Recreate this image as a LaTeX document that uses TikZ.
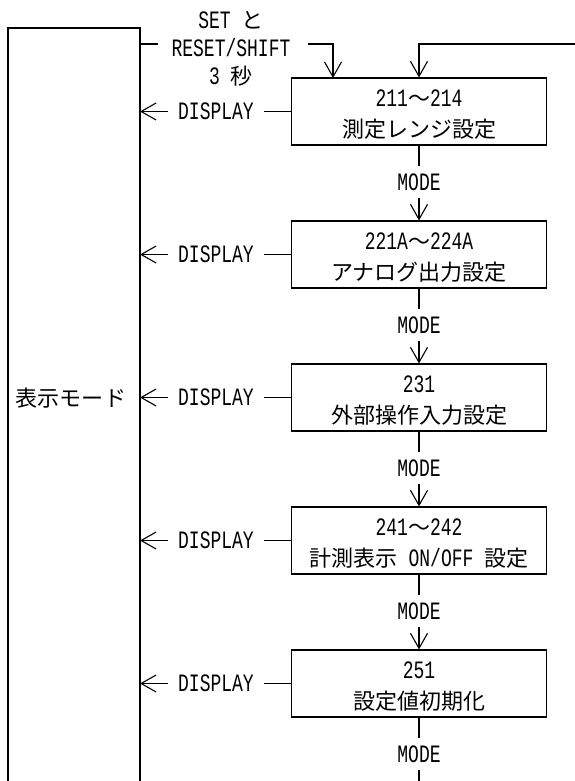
\documentclass[tikz,border=0pt]{standalone}
\usepackage{fontspec}
\setmainfont{Liberation Mono}[FakeStretch=0.72]
\newfontfamily\jpfont{Noto Sans CJK JP}
\usetikzlibrary{arrows.meta}
\newcommand{\jpt}[1]{{\jpfont\fontsize{22}{31}\selectfont #1}}
\begin{document}
\begin{tikzpicture}[x=1pt,y=-1pt,line width=1.1pt,
  arr/.style={-{Straight Barb[length=15pt,width=17pt]}},
  lat/.style={font=\fontsize{25}{31}\selectfont},
  box/.style={draw,minimum width=255pt,minimum height=67pt,inner sep=0pt},
  boxtext/.style={lat,align=center,inner sep=0pt,yshift=-3pt},
  modelbl/.style={lat,inner sep=0pt,minimum height=30pt},
  displbl/.style={lat,inner xsep=10pt,inner ysep=0pt}]
\useasboundingbox (0,0) rectangle (575,781);
% left column
\draw (8,790) -- (8,28) -- (140,28) -- (140,790);
\node (mode) at (71,398) {\jpt{表示モード}};
\coordinate (Lr) at (140,0);
% trigger text
\node[lat,align=center,inner sep=0pt,font=\fontsize{25}{28}\selectfont] (trig) at (231,49) {SET \jpt{と}\\RESET/SHIFT\\3 \jpt{秒}};
\coordinate (s0) at (140,44);
\coordinate (s1) at (158,44);
\coordinate (s2) at (308,44);
\coordinate (e1) at (333,78);
\coordinate (r0) at (575,44);
% boxes
\node[box,label={[boxtext]center:211\jpt{～}214\\\jpt{測定レンジ設定}}] (b1) at (419,111.5) {};
\node[box,label={[boxtext]center:221A\jpt{～}224A\\\jpt{アナログ出力設定}}] (b2) at (419,254.5) {};
\node[box,label={[boxtext]center:231\\\jpt{外部操作入力設定}}] (b3) at (419,397.5) {};
\node[box,label={[boxtext]center:241\jpt{～}242\\\jpt{計測表示} ON/OFF \jpt{設定}}] (b4) at (419,540.5) {};
\node[box,label={[boxtext]center:251\\\jpt{設定値初期化}}] (b5) at (419,683.5) {};
% mode labels
\node[modelbl] (m1) at (419,182) {MODE};
\node[modelbl] (m2) at (419,325) {MODE};
\node[modelbl] (m3) at (419,468) {MODE};
\node[modelbl] (m4) at (419,611) {MODE};
\node[modelbl] (m5) at (419,754) {MODE};
\coordinate (bot) at (419,790);
% display labels
\foreach \i/\y in {1/111.5,2/254.5,3/397.5,4/540.5,5/683.5}{
  \node[displbl] (d\i) at (216,\y) {DISPLAY};
  \draw (b\i.west) -- (d\i.east);
  \draw[arr] (d\i.west) -- (d\i.west -| Lr);
}
% top connectors
\draw (s0) -- (s1);
\draw[arr] (s2) -| (e1);
\draw[arr] (r0) -| (b1.north);
% mode connectors
\draw (b1.south) -- (m1.north);
\draw[arr] (m1.south) -- (b2.north);
\draw (b2.south) -- (m2.north);
\draw[arr] (m2.south) -- (b3.north);
\draw (b3.south) -- (m3.north);
\draw[arr] (m3.south) -- (b4.north);
\draw (b4.south) -- (m4.north);
\draw[arr] (m4.south) -- (b5.north);
\draw (b5.south) -- (m5.north);
\draw (m5.south) -- (bot);
\end{tikzpicture}
\end{document}
